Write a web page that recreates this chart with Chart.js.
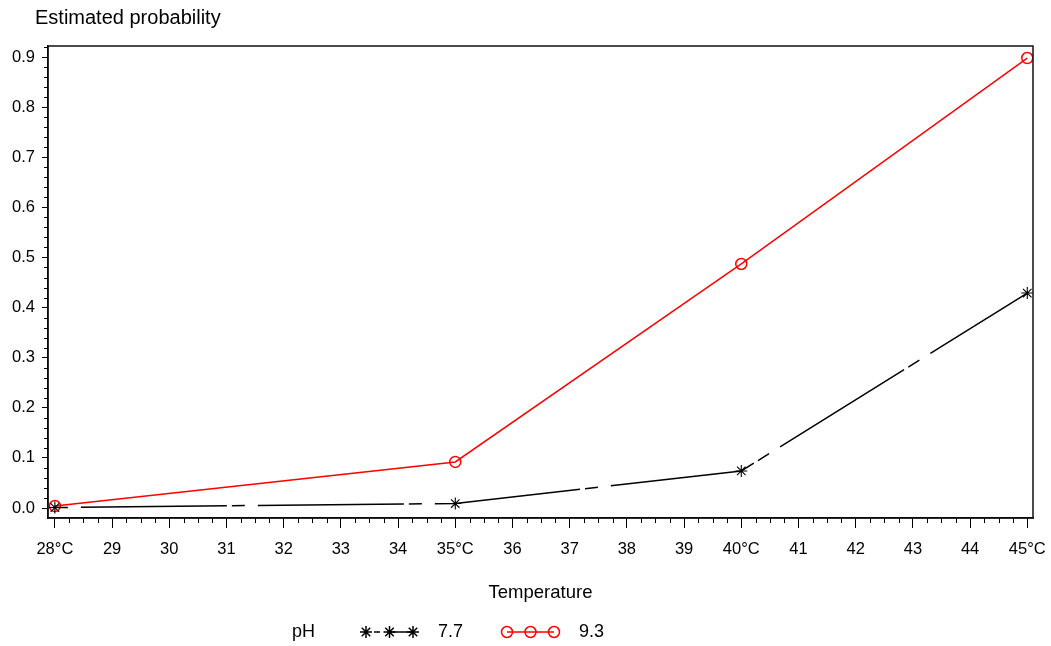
<!DOCTYPE html>
<html>
<head>
<meta charset="utf-8">
<script src="https://cdn.jsdelivr.net/npm/chart.js@4"></script>
<style>
body { margin: 0; background: #fff; }
#wrap { width: 1051px; height: 646px; }
</style>
</head>
<body>
<div id="wrap"><canvas id="graph"></canvas></div>
<script>
// data
const temperatures = [28, 35, 40, 45];
const probPh77 = [0.001, 0.009, 0.074, 0.429];
const probPh93 = [0.004, 0.092, 0.487, 0.898];
const seriesNames = ['7.7', '9.3'];
const legendTitle = 'pH';

const xTickValues = [28, 29, 30, 31, 32, 33, 34, 35, 36, 37, 38, 39, 40, 41, 42, 43, 44, 45];
const xTickLabels = ['28°C', '29', '30', '31', '32', '33', '34', '35°C', '36', '37', '38', '39', '40°C', '41', '42', '43', '44', '45°C'];
const yTickValues = [0, 0.1, 0.2, 0.3, 0.4, 0.5, 0.6, 0.7, 0.8, 0.9];

const FONT = '"Liberation Sans", Arial, sans-serif';
Chart.defaults.font.family = FONT;
Chart.defaults.font.size = 16.5;
Chart.defaults.color = '#000';

let context = document.querySelector('#graph');

// frame, minor ticks, y title text and legend
const decorations = {
    id: 'decorations',
    afterDraw(chart) {
        let ctx = chart.ctx;
        let area = chart.chartArea;
        let xs = chart.scales.x;
        let ys = chart.scales.y;
        ctx.save();

        // box round the plot
        ctx.strokeStyle = '#111';
        ctx.lineWidth = 1.5;
        ctx.strokeRect(area.left, area.top, area.right - area.left, area.bottom - area.top);

        // minor ticks
        ctx.lineWidth = 1;
        ctx.strokeStyle = '#000';
        ctx.beginPath();
        for (let i = 0; i < xTickValues.length - 1; i++) {
            for (let k = 1; k < 4; k++) {
                let px = Math.round(xs.getPixelForValue(xTickValues[i] + k / 4)) + 0.5;
                ctx.moveTo(px, area.bottom);
                ctx.lineTo(px, area.bottom + 5);
            }
        }
        for (let i = 0; i < yTickValues.length; i++) {
            for (let k = 1; k < 5; k++) {
                let v = yTickValues[i] + k * 0.02;
                if (v > ys.max) continue;
                let py = Math.round(ys.getPixelForValue(v)) + 0.5;
                ctx.moveTo(area.left, py);
                ctx.lineTo(area.left - 4, py);
            }
        }
        ctx.stroke();

        // axis label on top
        ctx.font = '20px ' + FONT;
        ctx.fillStyle = '#000';
        ctx.textBaseline = 'middle';
        ctx.textAlign = 'left';
        ctx.fillText('Estimated probability', 35, 18);

        // legend
        let ly = 632;
        ctx.font = '18px ' + FONT;
        ctx.fillText(legendTitle, 292, ly);
        let starts = [366, 507];
        chart.data.datasets.forEach((ds, i) => {
            let x0 = starts[i];
            let step = 23.5;
            ctx.strokeStyle = ds.borderColor;
            ctx.lineWidth = 1.5;
            ctx.beginPath();
            if (i === 0) {
                ctx.moveTo(x0 + 8, ly);
                ctx.lineTo(x0 + 14, ly);
                ctx.moveTo(x0 + step, ly);
            } else {
                ctx.moveTo(x0, ly);
            }
            ctx.lineTo(x0 + 2 * step, ly);
            ctx.stroke();
            for (let k = 0; k < 3; k++) {
                ctx.strokeStyle = ds.pointBorderColor;
                ctx.fillStyle = 'rgba(0,0,0,0)';
                Chart.helpers.drawPoint(ctx, {
                    pointStyle: ds.pointStyle,
                    radius: ds.pointRadius,
                    borderWidth: ds.pointBorderWidth,
                    rotation: 0
                }, x0 + k * step, ly);
            }
            ctx.fillStyle = '#000';
            ctx.fillText(ds.label, x0 + 2 * step + 25, ly);
        });
        ctx.restore();
    }
};

let graph = new Chart(context, {
    type: 'line',
    data: {
        datasets: [
            {
                label: seriesNames[0],
                data: temperatures.map((t, i) => ({ x: t, y: probPh77[i] })),
                borderColor: '#000',
                borderWidth: 1.5,
                borderDash: [146, 5, 13, 13],
                borderDashOffset: 151,
                pointStyle: 'star',
                pointRadius: 6,
                pointBorderWidth: 1.1,
                pointBorderColor: '#000',
                pointBackgroundColor: 'rgba(0,0,0,0)',
                tension: 0
            },
            {
                label: seriesNames[1],
                data: temperatures.map((t, i) => ({ x: t, y: probPh93[i] })),
                borderColor: '#ff0000',
                borderWidth: 1.5,
                pointStyle: 'circle',
                pointRadius: 5.5,
                pointBorderWidth: 1.5,
                pointBorderColor: '#ff0000',
                pointBackgroundColor: 'rgba(0,0,0,0)',
                tension: 0
            }
        ]
    },
    options: {
        responsive: true,
        maintainAspectRatio: false,
        animation: false,
        layout: {
            padding: { top: 46, right: 18, bottom: 40, left: 0 }
        },
        plugins: {
            legend: { display: false },
            title: { display: false },
            tooltip: { enabled: false }
        },
        scales: {
            x: {
                type: 'linear',
                min: 27.88,
                max: 45.1,
                afterBuildTicks: s => { s.ticks = xTickValues.map(v => ({ value: v })); },
                afterFit: s => { s.height = 88; s.paddingLeft = 0; s.paddingRight = 0; },
                ticks: {
                    autoSkip: false,
                    maxRotation: 0,
                    padding: 12,
                    callback: (v, i) => xTickLabels[i]
                },
                grid: { drawOnChartArea: false, tickLength: 10, color: '#000' },
                border: { color: '#000', width: 1.5 },
                title: {
                    display: true,
                    text: 'Temperature',
                    font: { size: 18.5 },
                    padding: { top: 0, bottom: 2 }
                }
            },
            y: {
                type: 'linear',
                min: -0.0199,
                max: 0.922,
                afterBuildTicks: s => { s.ticks = yTickValues.map(v => ({ value: v })); },
                afterFit: s => { s.width = 48; s.paddingTop = 0; s.paddingBottom = 0; },
                ticks: {
                    padding: 7,
                    callback: v => v.toFixed(1)
                },
                grid: { drawOnChartArea: false, tickLength: 6, color: '#000' },
                border: { color: '#000', width: 1.5 }
            }
        }
    },
    plugins: [decorations]
});
</script>
</body>
</html>
